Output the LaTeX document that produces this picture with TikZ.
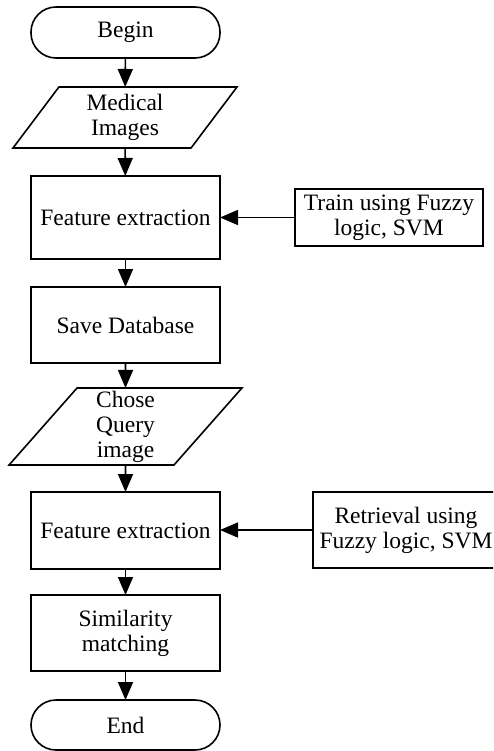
\documentclass[tikz,border=0pt]{standalone}
\usepackage{fontspec}
\setmainfont{Liberation Serif}
\usetikzlibrary{shapes.geometric,arrows.meta}
\begin{document}
\begin{tikzpicture}[x=1pt,y=-1pt,
  base/.style={draw=black,line width=1.6pt,inner sep=0pt,outer sep=0pt,align=center,
    font=\fontsize{23.5}{25}\selectfont},
  term/.style={base,rounded corners=25pt,minimum width=189pt},
  proc/.style={base,rectangle,minimum width=189pt},
  io/.style={base,trapezium,trapezium left angle=60,trapezium right angle=120,trapezium stretches=true},
  side/.style={base,rectangle},
  arr/.style={line width=1.6pt,-{Triangle[length=18pt,width=15pt]}}
]
\useasboundingbox (0,0) rectangle (493,751);
\clip (0,0) rectangle (493,751);
\node[term,minimum height=51pt] (begin) at (125.5,32.5) {Begin};
\node[io,minimum width=224pt,minimum height=61pt] (med) at (125,117.5) {Medical\\Images};
\node[proc,minimum height=83pt] (fe1) at (125.5,217.5) {Feature extraction};
\node[side,minimum width=188pt,minimum height=57pt] (train) at (389,217.5) {Train using Fuzzy\\logic, SVM};
\node[proc,minimum height=76pt] (save) at (125.5,325) {Save Database};
\node[io,minimum width=233pt,minimum height=77pt] (query) at (125.5,426.5) {Chose\\Query\\image};
\node[proc,minimum height=77pt] (fe2) at (125.5,530.5) {Feature extraction};
\node[side,minimum width=186pt,minimum height=76pt] (retr) at (406,530) {Retrieval using\\Fuzzy logic, SVM};
\node[proc,minimum height=76pt] (sim) at (125.5,633) {Similarity\\matching};
\node[term,minimum height=50pt] (end) at (125.5,725) {End};
\draw[arr] (begin) -- (med);
\draw[arr] (med) -- (fe1);
\draw[arr] (train) -- (fe1);
\draw[arr] (fe1) -- (save);
\draw[arr] (save) -- (query);
\draw[arr] (query) -- (fe2);
\draw[arr] (retr.west) -- (fe2.east |- retr.west);
\draw[arr] (fe2) -- (sim);
\draw[arr] (sim) -- (end);
\end{tikzpicture}
\end{document}
